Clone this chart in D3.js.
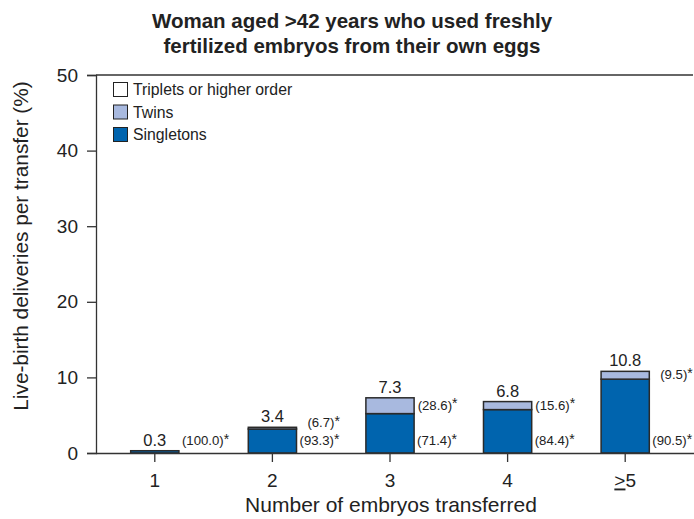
<!DOCTYPE html>
<html><head><meta charset="utf-8">
<script src="https://cdn.jsdelivr.net/npm/d3@7"></script>
<style>body{margin:0;background:#fff;} svg{display:block;font-family:"Liberation Sans",Arial,sans-serif;}</style>
</head><body>
<svg id="c" width="694" height="519"></svg>
<script>
const categories = ["1", "2", "3", "4", ">5"];
const singletons = [0.3, 3.17, 5.21, 5.74, 9.77];
const twins = [0, 0.23, 2.09, 1.06, 1.03];
const triplets = [0, 0, 0, 0, 0];
const totals = ["0.3", "3.4", "7.3", "6.8", "10.8"];
const singletonPct = ["(100.0)", "(93.3)", "(71.4)", "(84.4)", "(90.5)"];
const twinPct = [null, "(6.7)", "(28.6)", "(15.6)", "(9.5)"];
const yTicks = [0, 10, 20, 30, 40, 50];
const seriesNames = ["Triplets or higher order", "Twins", "Singletons"];
const colors = {Singletons: "#0064ae", Twins: "#a8b9df", "Triplets or higher order": "#ffffff"};

const svg = d3.select("#c");
const L = 96, R = 694, T = 75, B = 453;
const FF = "Liberation Sans, Arial, sans-serif";
const x = d3.scaleBand().domain(categories).range([96, 684]).paddingInner(0.59).paddingOuter(0.295);
const y = d3.scaleLinear().domain([0, 50]).range([B, T]);

// title
const title = svg.append("text").attr("font-weight", "bold").attr("font-size", 20.5)
  .attr("text-anchor", "middle").attr("fill", "#222");
title.append("tspan").attr("x", 352).attr("y", 28).text("Woman aged >42 years who used freshly");
title.append("tspan").attr("x", 352).attr("y", 53).text("fertilized embryos from their own eggs");

// top frame line
svg.append("line").attr("x1", L).attr("x2", 693).attr("y1", T).attr("y2", T).attr("stroke", "#333").attr("stroke-width", 1.5);

// y axis
const ya = svg.append("g").attr("transform", `translate(${L},0)`)
  .call(d3.axisLeft(y).tickValues(yTicks).tickSize(9).tickPadding(9));
ya.select(".domain").attr("stroke", "#333").attr("stroke-width", 1.3);
ya.selectAll(".tick line").attr("stroke", "#333").attr("stroke-width", 1.3);
ya.selectAll("text").attr("font-size", 19).attr("fill", "#222").attr("font-family", FF);

// bars
const stackData = categories.map((c, i) => ({cat: c, Singletons: singletons[i], Twins: twins[i], "Triplets or higher order": triplets[i]}));
const stack = d3.stack().keys(["Singletons", "Twins", "Triplets or higher order"])(stackData);
svg.append("g").selectAll("g").data(stack).join("g").attr("fill", d => colors[d.key])
  .selectAll("rect").data(d => d.filter(s => s[1] - s[0] > 0)).join("rect")
  .attr("x", d => x(d.data.cat)).attr("width", x.bandwidth())
  .attr("y", d => y(d[1])).attr("height", d => y(d[0]) - y(d[1]))
  .attr("stroke", "#2a2a2a").attr("stroke-width", 1.5);

// x axis
const xa = svg.append("g").attr("transform", `translate(0,${B})`)
  .call(d3.axisBottom(x).tickSize(9).tickPadding(12).tickSizeOuter(0));
xa.select(".domain").attr("d", `M${L},0.5H${R}`).attr("stroke", "#333").attr("stroke-width", 1.5);
xa.selectAll(".tick line").attr("stroke", "#333").attr("stroke-width", 1.3);
xa.selectAll("text").attr("font-size", 19).attr("fill", "#222").attr("font-family", FF)
  .each(function(d) {
    if (d.startsWith(">")) {
      const t = d3.select(this); t.text(null);
      t.append("tspan").attr("text-decoration", "underline").text(">");
      t.append("tspan").text(d.slice(1));
    }
  });

// value labels
categories.forEach((c, i) => {
  const tot = singletons[i] + twins[i] + triplets[i];
  svg.append("text").attr("x", x(c) + x.bandwidth() / 2).attr("y", y(tot) - 5)
    .attr("text-anchor", "middle").attr("font-size", 16.5).attr("fill", "#222").text(totals[i]);
  const xr = x(c) + x.bandwidth() + 3;
  const lab = (txt, xx, yy, anchor) => {
    const t = svg.append("text").attr("x", xx).attr("y", yy).attr("font-size", 13.2)
      .attr("text-anchor", anchor).attr("fill", "#222");
    t.append("tspan").text(txt);
    t.append("tspan").attr("font-size", 14).attr("dy", -1.5).text("*");
    return t;
  };
  const bottom = lab(singletonPct[i], xr, B - 8, "start");
  if (twinPct[i]) {
    const bb = bottom.node().getBBox();
    const cy = Math.min((y(singletons[i]) + y(singletons[i] + twins[i])) / 2, B - 30);
    lab(twinPct[i], bb.x + bb.width, cy + 4, "end");
  }
});

// legend
const lg = svg.append("g").attr("transform", "translate(113,82)");
seriesNames.forEach((n, i) => {
  lg.append("rect").attr("x", 0.5).attr("y", i * 22.5 + 0.5).attr("width", 14).attr("height", 14)
    .attr("fill", colors[n]).attr("stroke", "#222").attr("stroke-width", 1);
  lg.append("text").attr("x", 20).attr("y", i * 22.5 + 13).attr("font-size", 15.8).attr("fill", "#222").text(n);
});

// axis titles
svg.append("text").attr("transform", "translate(28,246) rotate(-90)").attr("text-anchor", "middle")
  .attr("font-size", 20.8).attr("fill", "#222").text("Live-birth deliveries per transfer (%)");
svg.append("text").attr("x", 391).attr("y", 512).attr("text-anchor", "middle")
  .attr("font-size", 21).attr("fill", "#222").text("Number of embryos transferred");
</script>
</body></html>
